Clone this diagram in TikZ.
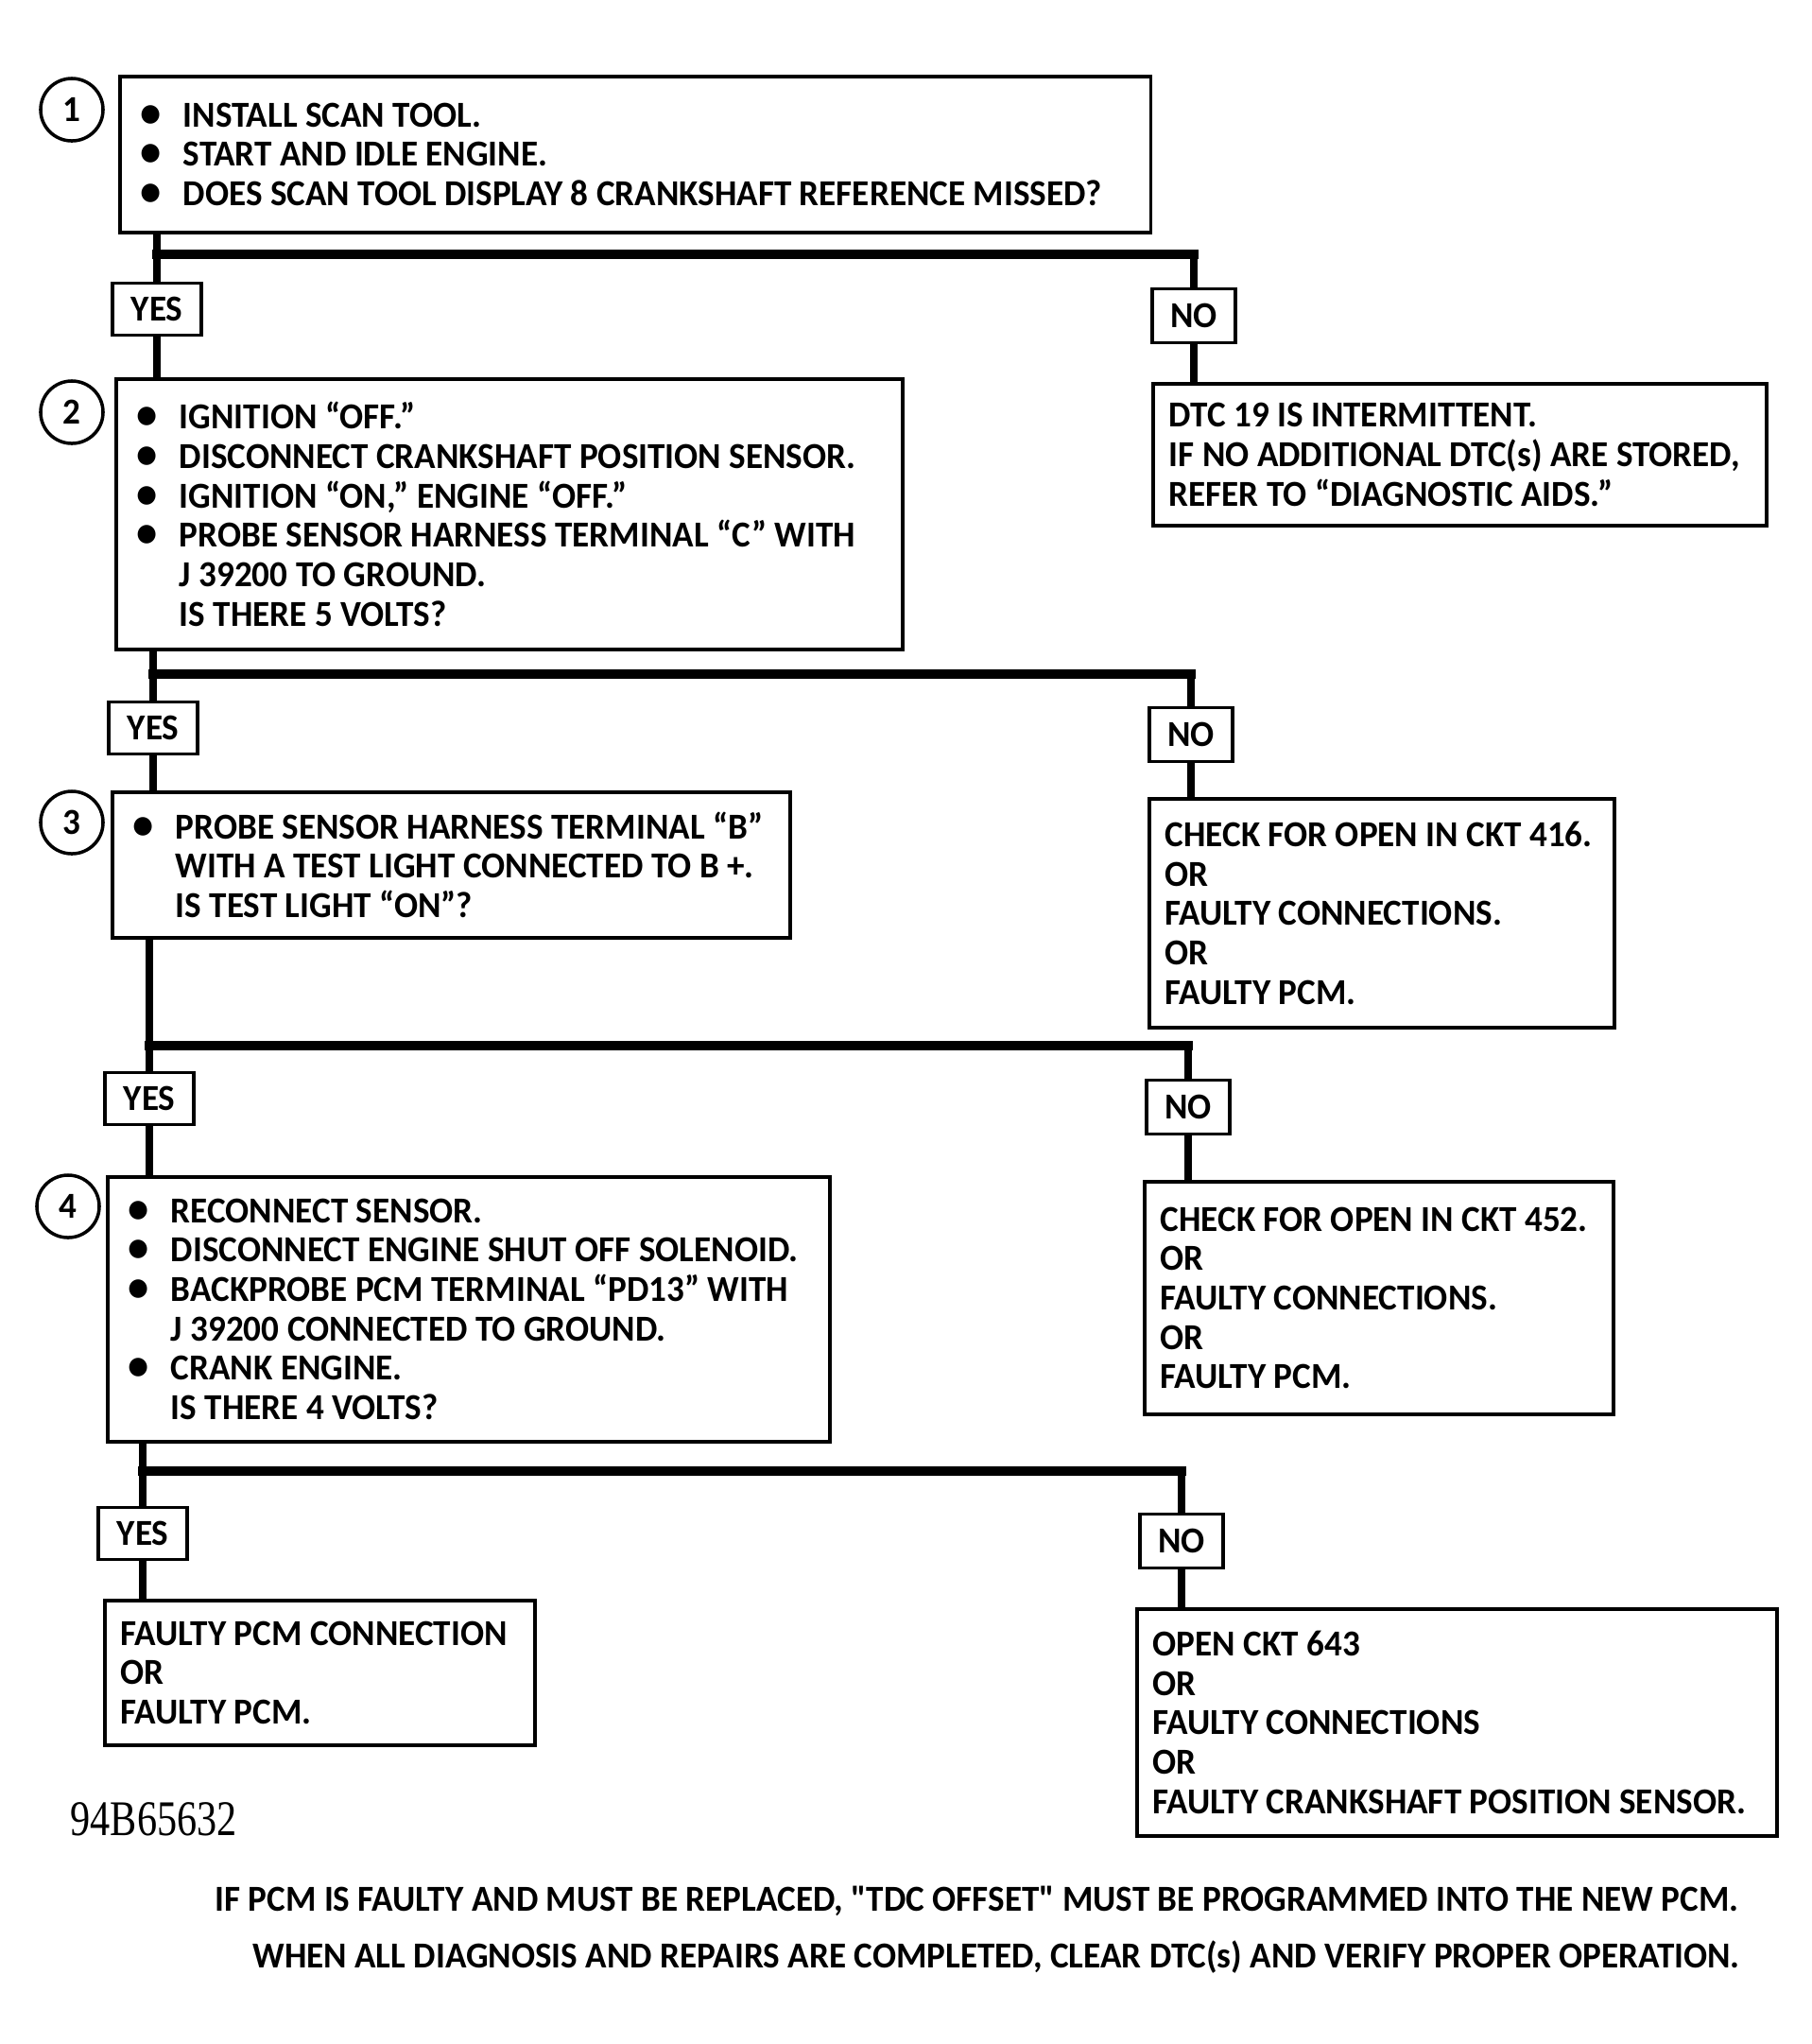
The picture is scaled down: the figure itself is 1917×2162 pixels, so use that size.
\documentclass[tikz,border=0pt]{standalone}
\usepackage{fontspec}
\setmainfont{Carlito}[FakeStretch=0.96, Ligatures=TeXOff]
\newfontfamily\codefont{Liberation Serif}[FakeStretch=0.8]
\usetikzlibrary{positioning}

\newcommand{\boxfont}{\bfseries\fontsize{11}{11.85}\selectfont}
\newcommand{\bul}{\makebox[0.45cm][l]{\scalebox{1.2}{\textbullet}}}
\newcommand{\ind}{\hspace*{0.45cm}}

\tikzset{
    % Boxes
    stepbox/.style={
        rectangle,
        draw,
        line width=1pt,
        anchor=north west,
        align=flush left,
        inner xsep=0.22cm,
        inner ysep=0pt,
        font=\boxfont
    },
    resultbox/.style={
        stepbox,
        inner xsep=0.17cm
    },
    % Answers
    answer/.style={
        rectangle,
        draw,
        line width=1pt,
        minimum width=0.94cm,
        minimum height=0.55cm,
        inner sep=0pt,
        font=\boxfont
    },
    stepnum/.style={
        circle,
        draw,
        line width=1pt,
        minimum size=0.66cm,
        inner sep=0pt,
        font=\boxfont
    },
    % Lines
    link/.style={
        line width=2.2pt
    },
    branch/.style={
        line width=3pt,
        line cap=rect
    },
    note/.style={
        anchor=west,
        font=\boxfont
    }
}

\begin{document}
\begin{tikzpicture}[x=0.01cm, y=-0.01cm]

    \useasboundingbox (0,0) rectangle (1917,2162);

    % Step 1
    \node[stepnum] (n1) at (76,116) {1};
    \node[stepbox, text width=10.46cm, minimum height=1.65cm] (box1) at (125,79) {\bul INSTALL SCAN TOOL.\\
        \bul START AND IDLE ENGINE.\\
        \bul DOES SCAN TOOL DISPLAY 8 CRANKSHAFT REFERENCE MISSED?};

    \node[answer] (yes1) at (166,327) {YES};
    \node[answer, minimum width=0.88cm, minimum height=0.57cm] (no1) at (1263,334) {NO};
    \coordinate (j1) at (0,269);

    \node[resultbox, text width=6.15cm, minimum height=1.50cm] (dtc) at (1218,404) {DTC 19 IS INTERMITTENT.\\
        IF NO ADDITIONAL DTC(s) ARE STORED,\\
        REFER TO “DIAGNOSTIC AIDS.”};

    % Step 2
    \node[stepnum] (n2) at (76,436) {2};
    \node[stepbox, text width=7.88cm, minimum height=2.86cm] (box2) at (121,399) {\bul IGNITION “OFF.”\\
        \bul DISCONNECT CRANKSHAFT POSITION SENSOR.\\
        \bul IGNITION “ON,” ENGINE “OFF.”\\
        \bul PROBE SENSOR HARNESS TERMINAL “C” WITH\\
        \ind J 39200 TO GROUND.\\
        \ind IS THERE 5 VOLTS?};

    \node[answer] (yes2) at (162,770) {YES};
    \node[answer, minimum width=0.88cm, minimum height=0.57cm] (no2) at (1260,777) {NO};
    \coordinate (j2) at (0,713);

    \node[resultbox, text width=4.58cm, minimum height=2.42cm] (ckt416) at (1214,843) {CHECK FOR OPEN IN CKT 416.\\
        OR\\
        FAULTY CONNECTIONS.\\
        OR\\
        FAULTY PCM.};

    % Step 3
    \node[stepnum] (n3) at (76,870) {3};
    \node[stepbox, text width=6.73cm, minimum height=1.54cm] (box3) at (117,836) {\bul PROBE SENSOR HARNESS TERMINAL “B”\\
        \ind WITH A TEST LIGHT CONNECTED TO B +.\\
        \ind IS TEST LIGHT “ON”?};

    \node[answer] (yes3) at (158,1162) {YES};
    \node[answer, minimum width=0.88cm, minimum height=0.57cm] (no3) at (1257,1171) {NO};
    \coordinate (j3) at (0,1106);

    \node[resultbox, text width=4.62cm, minimum height=2.46cm] (ckt452) at (1209,1248) {CHECK FOR OPEN IN CKT 452.\\
        OR\\
        FAULTY CONNECTIONS.\\
        OR\\
        FAULTY PCM.};

    % Step 4
    \node[stepnum] (n4) at (72,1276) {4};
    \node[stepbox, text width=7.20cm, minimum height=2.80cm] (box4) at (112,1243) {\bul RECONNECT SENSOR.\\
        \bul DISCONNECT ENGINE SHUT OFF SOLENOID.\\
        \bul BACKPROBE PCM TERMINAL “PD13” WITH\\
        \ind J 39200 CONNECTED TO GROUND.\\
        \bul CRANK ENGINE.\\
        \ind IS THERE 4 VOLTS?};

    \node[answer] (yes4) at (151,1622) {YES};
    \node[answer, minimum width=0.88cm, minimum height=0.57cm] (no4) at (1250,1630) {NO};
    \coordinate (j4) at (0,1556);

    \node[resultbox, text width=4.21cm, minimum height=1.53cm] (pcm) at (109,1691) {FAULTY PCM CONNECTION\\
        OR\\
        FAULTY PCM.};
    \node[resultbox, text width=6.43cm, minimum height=2.40cm] (ckt643) at (1201,1700) {OPEN CKT 643\\
        OR\\
        FAULTY CONNECTIONS\\
        OR\\
        FAULTY CRANKSHAFT POSITION SENSOR.};

    % Lines
    \draw[link] (box1.south -| yes1) -- (yes1.north);
    \draw[link] (yes1.south) -- (box2.north -| yes1);
    \draw[branch] (yes1 |- j1) -- (no1 |- j1);
    \draw[link] (no1 |- j1) -- (no1.north);
    \draw[link] (no1.south) -- (dtc.north -| no1);

    \draw[link] (box2.south -| yes2) -- (yes2.north);
    \draw[link] (yes2.south) -- (box3.north -| yes2);
    \draw[branch] (yes2 |- j2) -- (no2 |- j2);
    \draw[link] (no2 |- j2) -- (no2.north);
    \draw[link] (no2.south) -- (ckt416.north -| no2);

    \draw[link] (box3.south -| yes3) -- (yes3.north);
    \draw[link] (yes3.south) -- (box4.north -| yes3);
    \draw[branch] (yes3 |- j3) -- (no3 |- j3);
    \draw[link] (no3 |- j3) -- (no3.north);
    \draw[link] (no3.south) -- (ckt452.north -| no3);

    \draw[link] (box4.south -| yes4) -- (yes4.north);
    \draw[link] (yes4.south) -- (pcm.north -| yes4);
    \draw[branch] (yes4 |- j4) -- (no4 |- j4);
    \draw[link] (no4 |- j4) -- (no4.north);
    \draw[link] (no4.south) -- (ckt643.north -| no4);

    % Footer
    \node[anchor=west, inner sep=0pt, font=\codefont\fontsize{15}{16}\selectfont] (code) at (74,1924) {94B65632};
    \node[note] (note1) at (215,2011) {IF PCM IS FAULTY AND MUST BE REPLACED, "TDC OFFSET" MUST BE PROGRAMMED INTO THE NEW PCM.};
    \node[note] (note2) at (255,2070) {WHEN ALL DIAGNOSIS AND REPAIRS ARE COMPLETED, CLEAR DTC(s) AND VERIFY PROPER OPERATION.};

\end{tikzpicture}
\end{document}
